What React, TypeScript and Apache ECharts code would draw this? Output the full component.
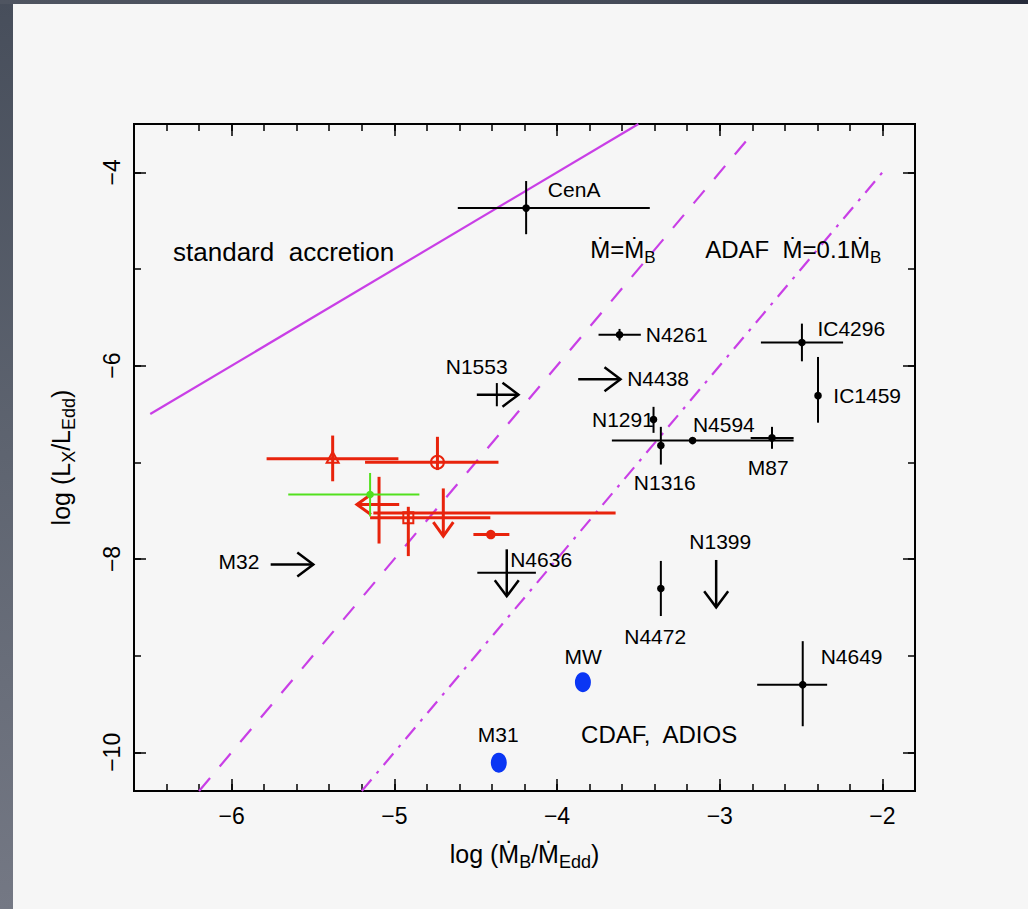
import React, { useEffect, useRef } from "react";
import * as echarts from "echarts";

// ---------- axis ranges and ticks ----------
const xMin = -6.6;
const xMax = -1.8;
const yMin = -10.4;
const yMax = -3.5;
const xMajorTicks = [-6, -5, -4, -3, -2];
const xMinorTicks = [
  -6.6, -6.4, -6.2, -6.0, -5.8, -5.6, -5.4, -5.2, -5.0, -4.8, -4.6, -4.4, -4.2,
  -4.0, -3.8, -3.6, -3.4, -3.2, -3.0, -2.8, -2.6, -2.4, -2.2, -2.0, -1.8,
];
const yMajorTicks = [-10, -8, -6, -4];
const yMinorTicks = [-10, -9, -8, -7, -6, -5, -4];

// ---------- model lines [x, y] ----------
const standardLine = [
  [-6.5, -6.5],
  [-3.5, -3.5],
];
const bondiLine = [
  [-6.2, -10.4],
  [-2.8, -3.6],
];
const adafLine = [
  [-5.2, -10.4],
  [-2.0, -4.0],
];

// ---------- points [x, y, xLo, xHi, yLo, yHi] ----------
const blackNames = ["CenA", "N4261", "IC4296", "IC1459", "N1291", "N1316", "N4594", "M87", "N4472", "N4649"];
const blackPoints = [
  [-4.19, -4.37, -4.61, -3.43, -4.64, -4.09],
  [-3.616, -5.68, -3.745, -3.485, -5.74, -5.62],
  [-2.495, -5.76, -2.747, -2.242, -5.955, -5.565],
  [-2.396, -6.31, null, null, -6.59, -5.91],
  [-3.407, -6.557, null, null, -6.695, -6.426],
  [-3.362, -6.826, null, null, -7.023, -6.633],
  [-3.167, -6.775, -3.663, -2.546, null, null],
  [-2.679, -6.747, -2.81, -2.546, -6.86, -6.633],
  [-3.362, -8.305, null, null, -8.59, -8.02],
  [-2.49, -9.3, -2.77, -2.34, -9.73, -8.85],
];
// limits drawn without a dot (N1553, N4636)
const blackLimitBars = [
  [-4.37, -6.3, null, null, -6.42, -6.18],
  [-4.31, -8.143, -4.49, -4.13, null, null],
];
// arrows [xFrom, yFrom, xTo, yTo]: N4438, N1553, M32, N1399, N4636
const blackArrows = [
  [-3.87, -6.14, -3.61, -6.14],
  [-4.493, -6.3, -4.237, -6.3],
  [-5.76, -8.057, -5.498, -8.057],
  [-3.022, -8.01, -3.022, -8.5],
  [-4.309, -7.9, -4.309, -8.385],
];

const redTriangle = [[-5.379, -6.964, -5.785, -4.975, -7.196, -6.723]];
const redCircle = [[-4.735, -6.999, -5.18, -4.36, -7.08, -6.736]];
const redSquare = [[-4.914, -7.574, -5.149, -4.41, -7.97, -7.46]];
const redDot = [[-4.407, -7.747, -4.514, -4.293, null, null]];
const redLimitBars = [
  [-5.094, -7.436, null, null, -7.84, -7.15],
  [-4.699, -7.523, -5.129, -3.64, null, null],
];
const redArrows = [
  [-4.97, -7.436, -5.23, -7.436],
  [-4.699, -7.27, -4.699, -7.764],
];
const greenPoint = [[-5.149, -7.333, -5.652, -4.846, -7.56, -7.11]];
const bluePoints = [
  [-3.841, -9.274],
  [-4.358, -10.107],
];

// ---------- text annotations [text, x, y] ----------
const labelsLeft = [
  ["N4261", -3.455, -5.678],
  ["N4438", -3.569, -6.133],
  ["IC4296", -2.4, -5.616],
  ["IC1459", -2.302, -6.309],
  ["N4594", -3.165, -6.609],
  ["N1316", -3.528, -7.206],
  ["N4636", -4.288, -8.005],
  ["N4649", -2.38, -9.005],
];
const labelsCenter = [
  ["CenA", -3.895, -4.179],
  ["N1553", -4.494, -6.009],
  ["M87", -2.702, -7.054],
  ["N1399", -2.997, -7.816],
  ["M32", -5.955, -8.026],
  ["N4472", -3.397, -8.805],
  ["MW", -3.84, -9.008],
  ["M31", -4.362, -9.815],
];
const labelsRight = [["N1291", -3.405, -6.557]];
const regionLabels = [
  ["Ṁ=Ṁ{s|B}", -3.796, -4.8],
  ["ADAF  Ṁ=0.1Ṁ{s|B}", -3.089, -4.8],
  ["CDAF,  ADIOS", -3.852, -9.815],
];
const regionLabelsLarge = [["standard  accretion", -6.36, -4.82]];

const FONT = "'Liberation Sans', 'DejaVu Sans', sans-serif";
const RED = "#e8230c";
const GREEN = "#52e01e";
const BLUE = "#0a36f4";
const MAGENTA = "#c93fe6";

type Pt = (number | null)[];

function errorSeries(points: Pt[], color: string, width: number, marker: string, z = 3) {
  return {
    type: "custom",
    coordinateSystem: "cartesian2d",
    xAxisIndex: 0,
    yAxisIndex: 0,
    z,
    silent: true,
    data: points.map((p) => [p[0], p[1]]),
    renderItem: (params: any, api: any) => {
      const p = points[params.dataIndex] as number[];
      const c = api.coord([p[0], p[1]]);
      const ls = { stroke: color, lineWidth: width, fill: null };
      const children: any[] = [];
      if (p[2] != null && p[3] != null) {
        const a = api.coord([p[2], p[1]]);
        const b = api.coord([p[3], p[1]]);
        children.push({ type: "line", shape: { x1: a[0], y1: a[1], x2: b[0], y2: b[1] }, style: ls });
      }
      if (p[4] != null && p[5] != null) {
        const a = api.coord([p[0], p[4]]);
        const b = api.coord([p[0], p[5]]);
        children.push({ type: "line", shape: { x1: a[0], y1: a[1], x2: b[0], y2: b[1] }, style: ls });
      }
      if (marker === "dot") {
        children.push({ type: "circle", shape: { cx: c[0], cy: c[1], r: 3.8 }, style: { fill: color } });
      } else if (marker === "bigdot") {
        children.push({ type: "circle", shape: { cx: c[0], cy: c[1], r: 4.8 }, style: { fill: color } });
      } else if (marker === "triangle") {
        children.push({
          type: "polygon",
          shape: { points: [[c[0], c[1] - 7], [c[0] - 6, c[1] + 4], [c[0] + 6, c[1] + 4]] },
          style: { stroke: color, lineWidth: 2, fill: "none" },
        });
      } else if (marker === "circle") {
        children.push({
          type: "circle",
          shape: { cx: c[0], cy: c[1], r: 6.5 },
          style: { stroke: color, lineWidth: 2, fill: "none" },
        });
      } else if (marker === "square") {
        children.push({
          type: "rect",
          shape: { x: c[0] - 5, y: c[1] - 5.5, width: 10, height: 11 },
          style: { stroke: color, lineWidth: 2, fill: "none" },
        });
      }
      return { type: "group", children };
    },
  };
}

function arrowSeries(arrows: number[][], color: string, width: number, headLen: number, headHalf: number) {
  return {
    type: "custom",
    coordinateSystem: "cartesian2d",
    xAxisIndex: 0,
    yAxisIndex: 0,
    z: 3,
    silent: true,
    data: arrows.map((a) => [a[0], a[1]]),
    renderItem: (params: any, api: any) => {
      const a = arrows[params.dataIndex];
      const p0 = api.coord([a[0], a[1]]);
      const p1 = api.coord([a[2], a[3]]);
      const dx = p1[0] - p0[0];
      const dy = p1[1] - p0[1];
      const len = Math.sqrt(dx * dx + dy * dy) || 1;
      const ux = dx / len;
      const uy = dy / len;
      const nx = -uy;
      const ny = ux;
      const bx = p1[0] - ux * headLen;
      const by = p1[1] - uy * headLen;
      const ls = { stroke: color, lineWidth: width, fill: "none" };
      return {
        type: "group",
        children: [
          { type: "line", shape: { x1: p0[0], y1: p0[1], x2: p1[0], y2: p1[1] }, style: ls },
          {
            type: "polyline",
            shape: {
              points: [
                [bx + nx * headHalf, by + ny * headHalf],
                [p1[0], p1[1]],
                [bx - nx * headHalf, by - ny * headHalf],
              ],
            },
            style: ls,
          },
        ],
      };
    },
  };
}

function labelSeries(items: any[][], align: string, fontSize: number) {
  return {
    type: "scatter",
    xAxisIndex: 0,
    yAxisIndex: 0,
    symbolSize: 0,
    silent: true,
    z: 5,
    itemStyle: { opacity: 1 },
    data: items.map((t) => ({ name: t[0], value: [t[1], t[2]] })),
    label: {
      show: true,
      position: [0, 0],
      align,
      verticalAlign: "middle",
      formatter: (p: any) => p.name,
      fontSize,
      fontFamily: FONT,
      color: "#000",
      opacity: 1,
      rich: {
        s: { fontSize: Math.round(fontSize * 0.7), fontFamily: FONT, color: "#000", padding: [15, 0, 0, 0] },
      },
    },
  };
}

function lineSeries(data: number[][], type: any) {
  return {
    type: "line",
    xAxisIndex: 0,
    yAxisIndex: 0,
    data,
    symbol: "none",
    silent: true,
    z: 2,
    lineStyle: { color: MAGENTA, width: 2.2, type, opacity: 1 },
  };
}

const tickStyle = { color: "#000", width: 1.5 };

function xAxisDef(position: string, ticks: number[], len: number, labels: boolean) {
  const ax: any = {
    type: "value",
    min: xMin,
    max: xMax,
    position,
    splitLine: { show: false },
    axisLine: { show: false },
    axisTick: { show: true, inside: true, length: len, customValues: ticks, lineStyle: tickStyle },
    axisLabel: labels
      ? {
          show: true,
          customValues: ticks,
          formatter: (v: number) => String(v).replace("-", "\u2212"),
          fontSize: 23,
          fontFamily: FONT,
          color: "#000",
          margin: 13,
        }
      : { show: false },
  };
  return ax;
}

function yAxisDef(position: string, ticks: number[], len: number, labels: boolean) {
  const ax: any = {
    type: "value",
    min: yMin,
    max: yMax,
    position,
    splitLine: { show: false },
    axisLine: { show: false },
    axisTick: { show: true, inside: true, length: len, customValues: ticks, lineStyle: tickStyle },
    axisLabel: labels
      ? {
          show: true,
          customValues: ticks,
          rotate: 90,
          formatter: (v: number) => String(v).replace("-", "\u2212"),
          fontSize: 23,
          fontFamily: FONT,
          color: "#000",
          margin: 11,
        }
      : { show: false },
  };
  return ax;
}

const titleStyle = {
  fontSize: 25,
  fontFamily: FONT,
  color: "#000",
  rich: { s: { fontSize: 18, fontFamily: FONT, color: "#000", padding: [16, 0, 0, 0] } },
};

export default function App() {
  const ref = useRef<HTMLDivElement>(null);
  useEffect(() => {
    if (!ref.current) return;
    const chart = echarts.init(ref.current, null, { renderer: "svg" });
    const xMain = xAxisDef("bottom", xMajorTicks, 12, true);
    xMain.name = "log (Ṁ{s|B}/Ṁ{s|Edd})";
    xMain.nameLocation = "middle";
    xMain.nameGap = 46;
    xMain.nameTextStyle = titleStyle;
    const yMain = yAxisDef("left", yMajorTicks, 12, true);
    yMain.name = "log (L{s|X}/L{s|Edd})";
    yMain.nameLocation = "middle";
    yMain.nameGap = 56;
    yMain.nameRotate = 90;
    yMain.nameTextStyle = titleStyle;
    chart.setOption({
      animation: false,
      backgroundColor: "#f6f6f6",
      grid: {
        left: 121,
        top: 120,
        width: 781,
        height: 667,
        show: true,
        borderColor: "#000",
        borderWidth: 2,
        backgroundColor: "transparent",
        containLabel: false,
      },
      xAxis: [
        xMain,
        xAxisDef("top", xMajorTicks, 12, false),
        xAxisDef("bottom", xMinorTicks, 7, false),
        xAxisDef("top", xMinorTicks, 7, false),
      ],
      yAxis: [
        yMain,
        yAxisDef("right", yMajorTicks, 12, false),
        yAxisDef("left", yMinorTicks, 7, false),
        yAxisDef("right", yMinorTicks, 7, false),
      ],
      series: [
        lineSeries(standardLine, "solid"),
        lineSeries(bondiLine, [17, 15]),
        lineSeries(adafLine, [15, 8, 3, 8]),
        errorSeries(blackPoints as Pt[], "#000", 2, "dot"),
        errorSeries(blackLimitBars as Pt[], "#000", 2, "none"),
        arrowSeries(blackArrows, "#000", 2.5, 16, 12),
        errorSeries(redTriangle as Pt[], RED, 3, "triangle"),
        errorSeries(redCircle as Pt[], RED, 3, "circle"),
        errorSeries(redSquare as Pt[], RED, 3, "square"),
        errorSeries(redDot as Pt[], RED, 3, "bigdot"),
        errorSeries(redLimitBars as Pt[], RED, 3, "none"),
        arrowSeries(redArrows, RED, 3, 14, 10),
        errorSeries(greenPoint as Pt[], GREEN, 2, "dot", 4),
        {
          type: "scatter",
          xAxisIndex: 0,
          yAxisIndex: 0,
          symbol: "circle",
          symbolSize: [16, 20],
          itemStyle: { color: BLUE, opacity: 1 },
          silent: true,
          data: bluePoints,
        },
        labelSeries(labelsLeft, "left", 21),
        labelSeries(labelsCenter, "center", 21),
        labelSeries(labelsRight, "right", 21),
        labelSeries(regionLabels, "left", 24),
        labelSeries(regionLabelsLarge, "left", 26),
      ],
    });
    return () => chart.dispose();
  }, []);

  return (
    <div
      style={{
        position: "fixed",
        left: 0,
        top: 0,
        width: 1028,
        height: 909,
        background: "linear-gradient(180deg, #474e5b 0%, #5e6470 50%, #747884 100%)",
        overflow: "hidden",
      }}
    >
      <div
        style={{
          position: "absolute",
          left: 0,
          top: 0,
          width: 1028,
          height: 4,
          background: "linear-gradient(90deg, #4f5561 0%, #454b58 60%, #262b3a 100%)",
        }}
      />
      <div ref={ref} style={{ position: "absolute", left: 13, top: 4, width: 1015, height: 905 }} />
    </div>
  );
}
